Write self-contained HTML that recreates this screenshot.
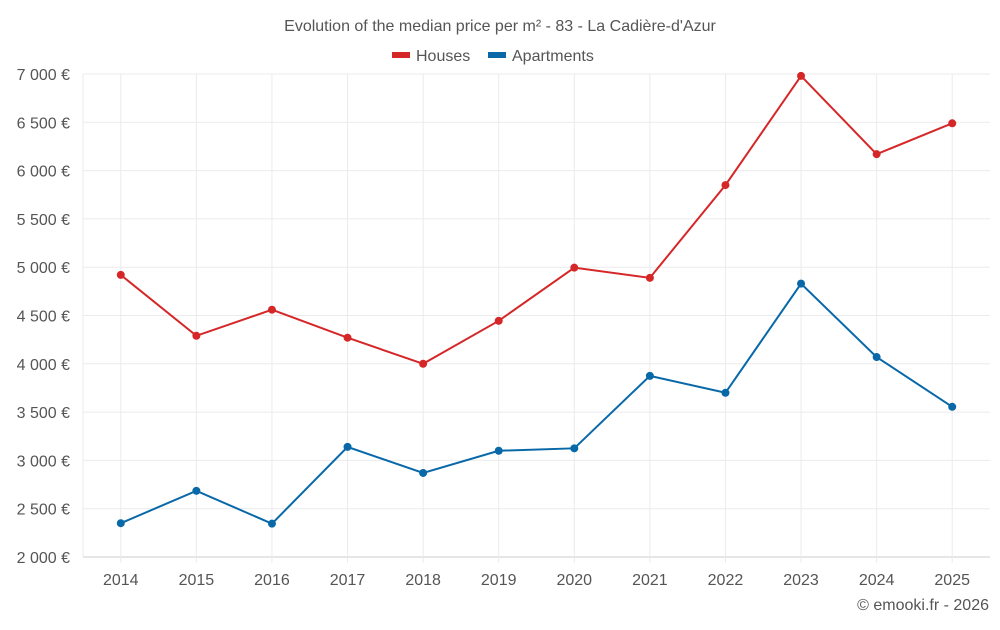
<!DOCTYPE html>
<html><head><meta charset="utf-8"><style>
body{margin:0;background:#fff;font-family:"Liberation Sans",sans-serif;}
svg text{font-family:"Liberation Sans",sans-serif;fill:#555;}
</style></head><body>
<svg id="chart" width="1000" height="625">
<text x="500" y="31" text-anchor="middle" font-size="16">Evolution of the median price per m² - 83 - La Cadière-d'Azur</text>
<g>
<g><rect x="392" y="52" width="18" height="6" fill="#d62728"/><text x="416" y="61" font-size="16">Houses</text></g>
<g><rect x="488" y="52" width="18" height="6" fill="#0868a8"/><text x="512" y="61" font-size="16">Apartments</text></g>
</g>
<g id="grid"></g><g id="axes"></g><g id="series"></g>
<text x="989" y="610" text-anchor="end" font-size="16">© emooki.fr - 2026</text>
</svg>
<script>
const years=[2014,2015,2016,2017,2018,2019,2020,2021,2022,2023,2024,2025];
const houses=[4920,4290,4560,4270,4000,4445,4995,4890,5850,6980,6170,6490];
const apartments=[2350,2685,2345,3140,2870,3100,3125,3875,3700,4830,4070,3555];
const yTicks=[2000,2500,3000,3500,4000,4500,5000,5500,6000,6500,7000];
const L=83,R=990,T=74,B=557,yMin=2000,yMax=7000;
const bw=(R-L)/years.length;
const x=i=>L+bw*(i+0.5);
const y=v=>B-(v-yMin)/(yMax-yMin)*(B-T);
const ns='http://www.w3.org/2000/svg';
function mk(t,a,p){const e=document.createElementNS(ns,t);for(const k in a)e.setAttribute(k,a[k]);p.appendChild(e);return e;}
const grid=document.getElementById('grid'),axes=document.getElementById('axes'),ser=document.getElementById('series');
yTicks.forEach(v=>{
 const l=mk('line',{x1:L,x2:R,y1:y(v),y2:y(v),stroke:v===yMin?'#ccc':'#ebebeb'},grid);
 
 
 const t=mk('text',{x:70,y:y(v)+6,'text-anchor':'end','font-size':16},axes);
 t.textContent=String(v).replace(/\B(?=(\d{3})+$)/,' ')+' €';
 
 
});
mk('line',{x1:L,x2:L,y1:T,y2:B,stroke:'#ebebeb'},grid);
years.forEach((yr,i)=>{
 const l=mk('line',{x1:x(i),x2:x(i),y1:T,y2:B+6,stroke:'#ebebeb'},grid);
 
 
 const t=mk('text',{x:x(i),y:585,'text-anchor':'middle','font-size':16},axes);
 t.textContent=yr;
 
 
});
function draw(vals,color,name){
 const p=mk('polyline',{points:vals.map((v,i)=>x(i)+','+y(v)).join(' '),fill:'none',stroke:color,'stroke-width':2},ser);
 
 
 vals.forEach((v,i)=>{
  const c=mk('circle',{cx:x(i),cy:y(v),r:4,fill:color},ser);
  
  
 });
}
draw(houses,'#d62728','houses');
draw(apartments,'#0868a8','apartments');
</script>
</body></html>
